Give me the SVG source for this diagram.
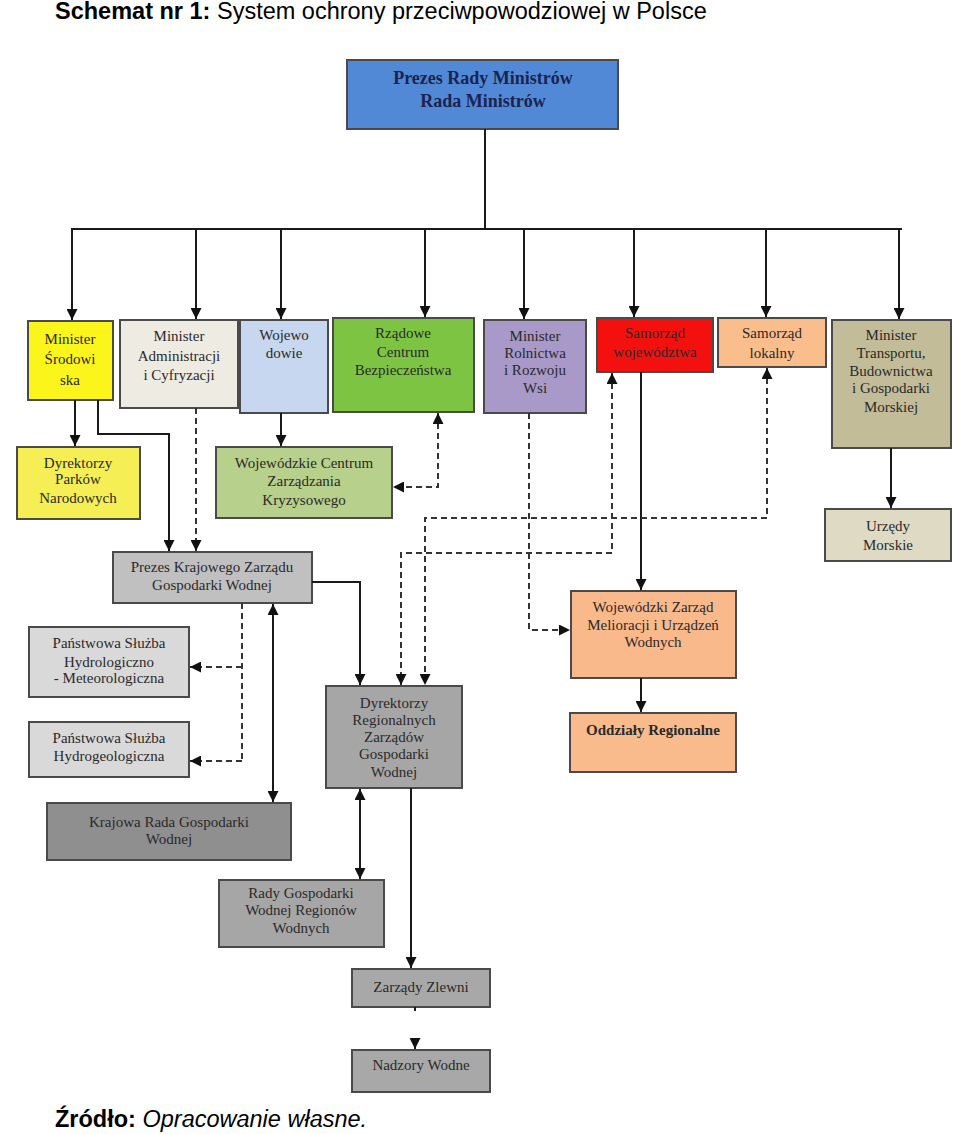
<svg xmlns="http://www.w3.org/2000/svg" width="960" height="1134" viewBox="0 0 960 1134">
<style>
.box{stroke:#4a4a4a;stroke-width:2}
.t{font-family:"Liberation Serif","Times New Roman",serif;font-size:15px;text-anchor:middle;fill:#2a2a2a}
.tb{font-family:"Liberation Serif","Times New Roman",serif;font-size:18px;font-weight:bold;text-anchor:middle;fill:#1b2350}
.hdr{font-family:"Liberation Sans",Arial,sans-serif;font-size:23.5px;fill:#000}
.ln{fill:none;stroke:#1a1a1a;stroke-width:2}
.dl{fill:none;stroke:#333;stroke-width:2;stroke-dasharray:6 4}
</style>
<defs>
<marker id="ar" viewBox="0 0 10 10" refX="10" refY="5" markerWidth="11" markerHeight="11" markerUnits="userSpaceOnUse" orient="auto-start-reverse">
<path d="M0,0 L10,5 L0,10 z" fill="#111"/>
</marker>
</defs>
<rect width="960" height="1134" fill="#fff"/>

<text class="hdr" x="55" y="19"><tspan font-weight="bold">Schemat nr 1:</tspan> System ochrony przeciwpowodziowej w Polsce</text>

<g id="n-premier">
<rect class="box" x="347" y="60" width="271" height="69" fill="#5189d6"/>
<text class="tb" x="483" y="84">Prezes Rady Ministrów</text>
<text class="tb" x="483" y="107">Rada Ministrów</text>
</g>

<g id="n-min-srod">
<rect class="box" x="28" y="321" width="85" height="79" fill="#fbf51c"/>
<text class="t" x="70" y="344" fill="#3a3a10">Minister</text>
<text class="t" x="70" y="364" fill="#3a3a10">Środowi</text>
<text class="t" x="70" y="385" fill="#3a3a10">ska</text>
</g>
<g id="n-min-adm">
<rect class="box" x="120" y="320" width="118" height="88" fill="#eeebe2"/>
<text class="t" x="179" y="341">Minister</text>
<text class="t" x="179" y="361">Administracji</text>
<text class="t" x="179" y="380">i Cyfryzacji</text>
</g>
<g id="n-woj">
<rect class="box" x="240" y="320" width="88" height="93" fill="#c6d7ef"/>
<text class="t" x="284" y="340" fill="#1e2a50">Wojewo</text>
<text class="t" x="284" y="358" fill="#1e2a50">dowie</text>
</g>
<g id="n-rcb">
<rect class="box" x="333" y="318" width="141" height="94" fill="#7dc443"/>
<text class="t" x="403" y="338" fill="#16380c">Rządowe</text>
<text class="t" x="403" y="357" fill="#16380c">Centrum</text>
<text class="t" x="403" y="375" fill="#16380c">Bezpieczeństwa</text>
</g>
<g id="n-min-rol">
<rect class="box" x="484" y="320" width="102" height="93" fill="#a899c9"/>
<text class="t" x="535" y="341" fill="#241a3a">Minister</text>
<text class="t" x="535" y="358" fill="#241a3a">Rolnictwa</text>
<text class="t" x="535" y="375" fill="#241a3a">i Rozwoju</text>
<text class="t" x="535" y="393" fill="#241a3a">Wsi</text>
</g>
<g id="n-sam-woj">
<rect class="box" x="597" y="318" width="116" height="54" fill="#f51010"/>
<text class="t" x="655" y="338" fill="#a80000">Samorząd</text>
<text class="t" x="655" y="357" fill="#a80000">województwa</text>
</g>
<g id="n-sam-lok">
<rect class="box" x="718" y="318" width="108" height="49" fill="#fabd8c"/>
<text class="t" x="772" y="338" fill="#4a2410">Samorząd</text>
<text class="t" x="772" y="358" fill="#4a2410">lokalny</text>
</g>
<g id="n-min-tr">
<rect class="box" x="832" y="320" width="119" height="128" fill="#c3bc98"/>
<text class="t" x="891" y="340">Minister</text>
<text class="t" x="891" y="358">Transportu,</text>
<text class="t" x="891" y="376">Budownictwa</text>
<text class="t" x="891" y="393">i Gospodarki</text>
<text class="t" x="891" y="412">Morskiej</text>
</g>

<g id="n-parki">
<rect class="box" x="17" y="447" width="123" height="72" fill="#f5ef55"/>
<text class="t" x="78" y="468" fill="#3a3a10">Dyrektorzy</text>
<text class="t" x="78" y="484" fill="#3a3a10">Parków</text>
<text class="t" x="78" y="503" fill="#3a3a10">Narodowych</text>
</g>
<g id="n-wczk">
<rect class="box" x="216" y="447" width="176" height="71" fill="#b7d08b"/>
<text class="t" x="304" y="468" fill="#1f2e12">Wojewódzkie Centrum</text>
<text class="t" x="304" y="486" fill="#1f2e12">Zarządzania</text>
<text class="t" x="304" y="505" fill="#1f2e12">Kryzysowego</text>
</g>
<g id="n-urzedy">
<rect class="box" x="825" y="509" width="126" height="52" fill="#dedac4"/>
<text class="t" x="888" y="531">Urzędy</text>
<text class="t" x="888" y="550">Morskie</text>
</g>
<g id="n-kzgw">
<rect class="box" x="113" y="552" width="199" height="51" fill="#c0c0c0"/>
<text class="t" x="212" y="572">Prezes Krajowego Zarządu</text>
<text class="t" x="212" y="590">Gospodarki Wodnej</text>
</g>
<g id="n-wzmiuw">
<rect class="box" x="571" y="591" width="165" height="87" fill="#fab98a"/>
<text class="t" x="653" y="612" fill="#3e1c0c">Wojewódzki Zarząd</text>
<text class="t" x="653" y="630" fill="#3e1c0c">Melioracji i Urządzeń</text>
<text class="t" x="653" y="647" fill="#3e1c0c">Wodnych</text>
</g>
<g id="n-oddzialy">
<rect class="box" x="570" y="713" width="166" height="59" fill="#fabb8c"/>
<text class="t" x="653" y="735" fill="#3e1c0c" font-weight="bold" font-size="14">Oddziały Regionalne</text>
</g>
<g id="n-pshm">
<rect class="box" x="29" y="627" width="160" height="70" fill="#d9d9d9"/>
<text class="t" x="109" y="648">Państwowa Służba</text>
<text class="t" x="109" y="667">Hydrologiczno</text>
<text class="t" x="109" y="683">- Meteorologiczna</text>
</g>
<g id="n-pshg">
<rect class="box" x="29" y="722" width="160" height="55" fill="#d9d9d9"/>
<text class="t" x="109" y="743">Państwowa Służba</text>
<text class="t" x="109" y="761">Hydrogeologiczna</text>
</g>
<g id="n-krgw">
<rect class="box" x="47" y="803" width="244" height="57" fill="#8f8f8f"/>
<text class="t" x="169" y="827">Krajowa Rada Gospodarki</text>
<text class="t" x="169" y="844">Wodnej</text>
</g>
<g id="n-drzgw">
<rect class="box" x="326" y="686" width="136" height="102" fill="#a6a6a6"/>
<text class="t" x="394" y="708">Dyrektorzy</text>
<text class="t" x="394" y="725">Regionalnych</text>
<text class="t" x="394" y="742">Zarządów</text>
<text class="t" x="394" y="759">Gospodarki</text>
<text class="t" x="394" y="777">Wodnej</text>
</g>
<g id="n-rgwrw">
<rect class="box" x="219" y="880" width="165" height="67" fill="#a6a6a6"/>
<text class="t" x="301" y="898">Rady Gospodarki</text>
<text class="t" x="301" y="915">Wodnej Regionów</text>
<text class="t" x="301" y="933">Wodnych</text>
</g>
<g id="n-zlewni">
<rect class="box" x="352" y="969" width="138" height="38" fill="#a8a8a8"/>
<text class="t" x="421" y="992">Zarządy Zlewni</text>
</g>
<g id="n-nadzory">
<rect class="box" x="352" y="1050" width="138" height="42" fill="#a8a8a8"/>
<text class="t" x="421" y="1070">Nadzory Wodne</text>
</g>

<g id="connectors">
<path class="ln" d="M485,129 V229" stroke-width="2.5"/>
<path class="ln" d="M71,229 H902" stroke-width="3"/>
<path class="ln" d="M72,229 V320" marker-end="url(#ar)"/>
<path class="ln" d="M196,229 V319" marker-end="url(#ar)"/>
<path class="ln" d="M281,229 V319" marker-end="url(#ar)"/>
<path class="ln" d="M425,229 V317" marker-end="url(#ar)"/>
<path class="ln" d="M524,229 V319" marker-end="url(#ar)"/>
<path class="ln" d="M634,229 V317" marker-end="url(#ar)"/>
<path class="ln" d="M766,229 V317" marker-end="url(#ar)"/>
<path class="ln" d="M899,229 V319" marker-end="url(#ar)"/>

<path class="ln" d="M75,400 V446" marker-end="url(#ar)"/>
<path class="ln" d="M98,400 V434 H169 V551" marker-end="url(#ar)" stroke="#333"/>
<path class="dl" d="M196,408 V551" marker-end="url(#ar)"/>
<path class="ln" d="M281,413 V446" marker-end="url(#ar)"/>
<path class="dl" d="M438,413 V487 H393" marker-start="url(#ar)" marker-end="url(#ar)"/>
<path class="dl" d="M529,413 V630 H570" marker-end="url(#ar)"/>
<path class="ln" d="M641,372 V590" marker-end="url(#ar)"/>
<path class="dl" d="M612,373 V553 H401 V685" marker-start="url(#ar)" marker-end="url(#ar)"/>
<path class="dl" d="M767,368 V518 H425 V685" marker-start="url(#ar)" marker-end="url(#ar)"/>
<path class="ln" d="M312,582 H360 V685" marker-end="url(#ar)"/>
<path class="ln" d="M891,448 V508" marker-end="url(#ar)"/>
<path class="ln" d="M641,678 V712" marker-end="url(#ar)"/>

<path class="dl" d="M242,603 V761"/>
<path class="dl" d="M242,667 H190" marker-end="url(#ar)"/>
<path class="dl" d="M242,761 H190" marker-end="url(#ar)"/>
<path class="ln" d="M273,604 V802" marker-start="url(#ar)" marker-end="url(#ar)"/>
<path class="ln" d="M360,789 V879" marker-start="url(#ar)" marker-end="url(#ar)"/>
<path class="ln" d="M411,788 V968" marker-end="url(#ar)"/>
<path class="ln" d="M415,1007 V1011"/>
<path class="ln" d="M415,1039 V1049" marker-end="url(#ar)"/>
</g>

<text class="hdr" x="55" y="1127"><tspan font-weight="bold">Źródło:</tspan><tspan font-style="italic"> Opracowanie własne.</tspan></text>
</svg>
